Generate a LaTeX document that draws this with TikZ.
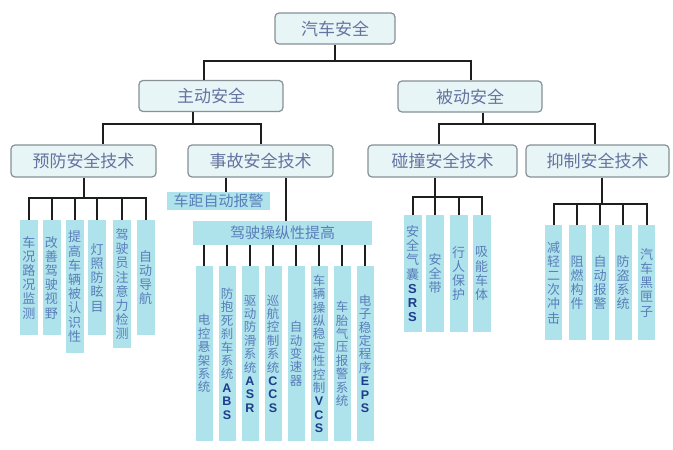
\documentclass[tikz,border=0pt]{standalone}
\usepackage{fontspec}
\setmainfont{Noto Sans CJK SC}
\newfontfamily\latf{Liberation Sans}
\definecolor{boxfill}{RGB}{232,245,246}
\definecolor{boxdraw}{RGB}{135,145,150}
\definecolor{lvltext}{RGB}{100,115,160}
\definecolor{leaffill}{RGB}{174,227,236}
\definecolor{leaftext}{RGB}{90,125,185}
\definecolor{latc}{RGB}{30,60,140}
\definecolor{linec}{RGB}{30,30,30}
\newcommand\vlat[1]{{\latf\bfseries\color{latc}#1}}
\tikzset{
  lvl/.style={draw=boxdraw, line width=1.2pt, rounded corners=4pt, fill=boxfill, text=lvltext,
    minimum height=31pt, inner sep=0pt, font=\fontsize{17}{17}\selectfont},
  leaf/.style={fill=leaffill, text=leaftext, inner sep=0pt, minimum width=18pt, align=center,
    anchor=north, font=\fontsize{13}{14.2}\selectfont},
  mleaf/.style={leaf, minimum width=17pt, minimum height=175pt, font=\fontsize{12.5}{13.4}\selectfont},
  hbox/.style={fill=leaffill, text=leaftext, inner sep=0pt},
  conn/.style={line width=2pt, draw=linec},
}
\begin{document}
\begin{tikzpicture}[x=1pt,y=-1pt]
\useasboundingbox[fill=white] (0,0) rectangle (673,450);
% levels
\node[lvl, minimum width=120pt] (root) at (335,28.5) {汽车安全};
\node[lvl, minimum width=144pt] (zd) at (211,96) {主动安全};
\node[lvl, minimum width=144pt] (bd) at (470,96.5) {被动安全};
\node[lvl, minimum width=145pt, minimum height=32pt] (yf) at (83.5,161) {预防安全技术};
\node[lvl, minimum width=145pt, minimum height=32pt] (sg) at (260.5,161) {事故安全技术};
\node[lvl, minimum width=149pt, minimum height=32pt] (pz) at (442.5,161) {碰撞安全技术};
\node[lvl, minimum width=143pt, minimum height=32pt] (yz) at (597.5,161) {抑制安全技术};
% level connectors
\coordinate (j1) at (335,61);
\draw[conn] (root.south) -- (j1);
\draw[conn] ([xshift=-7pt]zd.north) |- (j1);
\draw[conn] ([xshift=1pt]bd.north) |- (j1);
\coordinate (j2) at (193,124);
\draw[conn] ([xshift=-18pt]zd.south) -- (j2);
\draw[conn] ([xshift=19.5pt]yf.north) |- (j2);
\draw[conn] (sg.north) |- (j2);
\coordinate (j3) at (483,124);
\draw[conn] ([xshift=13pt]bd.south) -- (j3);
\draw[conn] ([xshift=-3.5pt]pz.north) |- (j3);
\draw[conn] ([xshift=-2.5pt]yz.north) |- (j3);
% 预防 leaves
\node[leaf, minimum height=115pt] (a1) at (29,220) {车\\况\\路\\况\\监\\测};
\node[leaf, minimum height=115pt] (a2) at (51.5,220) {改\\善\\驾\\驶\\视\\野};
\node[leaf, minimum height=133pt] (a3) at (74.5,220) {提\\高\\车\\辆\\被\\认\\识\\性};
\node[leaf, minimum height=115pt] (a4) at (97,220) {灯\\照\\防\\眩\\目};
\node[leaf, minimum height=128pt] (a5) at (122,220) {驾\\驶\\员\\注\\意\\力\\检\\测};
\node[leaf, minimum height=115pt] (a6) at (145.5,220) {自\\动\\导\\航};
\coordinate (j4) at (84,198);
\draw[conn] ([xshift=0.5pt]yf.south) -- (j4);
\foreach \n in {a1,a2,a3,a4,a5,a6} \draw[conn] (\n.north) |- (j4);
% 事故
\node[hbox, minimum width=103pt, minimum height=18pt, font=\fontsize{15}{15}\selectfont] (cj) at (218.5,201) {车距自动报警};
\node[hbox, minimum width=179pt, minimum height=24pt, font=\fontsize{15}{15}\selectfont] (js) at (282.5,233) {驾驶操纵性提高};
\draw[conn] ([xshift=-34.5pt]sg.south) -- ([xshift=7.5pt]cj.north);
\draw[conn] ([xshift=25.5pt]sg.south) -- ([xshift=3.5pt]js.north);
\node[mleaf] (m1) at (204,266) {电\\控\\悬\\架\\系\\统};
\node[mleaf] (m2) at (227,266) {防\\抱\\死\\刹\\车\\系\\统\\\vlat{A}\\\vlat{B}\\\vlat{S}};
\node[mleaf] (m3) at (250,266) {驱\\动\\防\\滑\\系\\统\\\vlat{A}\\\vlat{S}\\\vlat{R}};
\node[mleaf] (m4) at (273,266) {巡\\航\\控\\制\\系\\统\\\vlat{C}\\\vlat{C}\\\vlat{S}};
\node[mleaf] (m5) at (296,266) {自\\动\\变\\速\\器};
\node[mleaf] (m6) at (319,266) {车\\辆\\操\\纵\\稳\\定\\性\\控\\制\\\vlat{V}\\\vlat{C}\\\vlat{S}};
\node[mleaf] (m7) at (342,266) {车\\胎\\气\\压\\报\\警\\系\\统};
\node[mleaf] (m8) at (365,266) {电\\子\\稳\\定\\程\\序\\\vlat{E}\\\vlat{P}\\\vlat{S}};
\foreach \n in {m1,m2,m3,m4,m5,m6,m7,m8} \draw[conn] (js.south -| \n.north) -- (\n.north);
% 碰撞
\node[leaf, minimum height=117pt] (p1) at (412.5,215) {安\\全\\气\\囊\\\vlat{S}\\\vlat{R}\\\vlat{S}};
\node[leaf, minimum height=117pt] (p2) at (435,215) {安\\全\\带};
\node[leaf, minimum height=117pt] (p3) at (458.5,215) {行\\人\\保\\护};
\node[leaf, minimum height=117pt] (p4) at (481.5,215) {吸\\能\\车\\体};
\coordinate (j5) at (435,197);
\draw[conn] ([xshift=-7.5pt]pz.south) -- (j5);
\foreach \n in {p1,p2,p3,p4} \draw[conn] (\n.north) |- (j5);
% 抑制
\node[leaf, minimum height=115pt, minimum width=17pt] (q1) at (553.5,225) {减\\轻\\二\\次\\冲\\击};
\node[leaf, minimum height=115pt, minimum width=17pt] (q2) at (577,225) {阻\\燃\\构\\件};
\node[leaf, minimum height=115pt, minimum width=17pt] (q3) at (600,225) {自\\动\\报\\警};
\node[leaf, minimum height=115pt, minimum width=17pt] (q4) at (623,225) {防\\盗\\系\\统};
\node[leaf, minimum height=115pt, minimum width=17pt] (q5) at (646.5,225) {汽\\车\\黑\\匣\\子};
\coordinate (j6) at (602,204);
\draw[conn] ([xshift=4.5pt]yz.south) -- (j6);
\foreach \n in {q1,q2,q3,q4,q5} \draw[conn] (\n.north) |- (j6);
\end{tikzpicture}
\end{document}
